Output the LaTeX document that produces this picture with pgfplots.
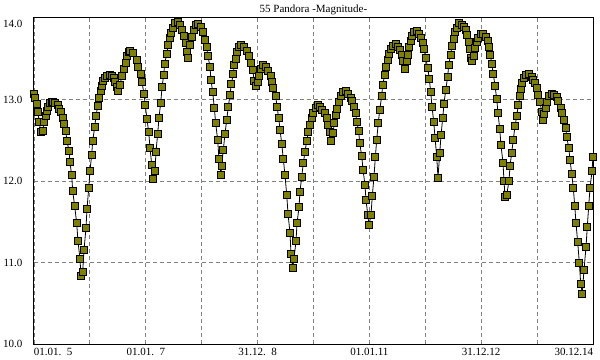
\documentclass[border=0pt]{standalone}
\usepackage{pgfplots}
\pgfplotsset{compat=1.18}
\usepackage{fontspec}
\setmainfont{Liberation Serif}
\definecolor{olivemk}{HTML}{808000}
\definecolor{gridgray}{HTML}{808080}
\begin{document}
\begin{tikzpicture}
\path[use as bounding box] (-34bp,-16bp) rectangle (566bp,344bp);
\begin{axis}[
  at={(0,0)}, anchor=south west,
  scale only axis, width=559bp, height=326bp,
  xmin=0, xmax=10, ymin=10, ymax=14,
  clip=false,
  axis line style={black, line width=1bp},
  major tick length=0pt,
  xtick={0,1,2,3,4,5,6,7,8,9,10},
  xticklabels={\rlap{01.01.\hphantom{0}5},,01.01.\hphantom{0}7,,31.12.\hphantom{0}8,,01.01.11,,31.12.12,,\llap{30.12.14}},
  ytick={10,11,12,13},
  yticklabels={10.0,11.0,12.0,13.0},
  extra y ticks={14},
  extra y tick labels={14.0},
  extra y tick style={grid=none, yticklabel style={yshift=-6bp}},
  grid=major,
  grid style={gridgray, line width=0.8bp, dash pattern=on 4bp off 3bp},
  tick label style={font=\fontsize{11bp}{13bp}\selectfont},
  /pgf/number format/assume math mode=true,
  yticklabel style={anchor=east, xshift=-8bp},
  xticklabel style={anchor=north, yshift=-1bp},
  title={55 Pandora -Magnitude-},
  title style={font=\fontsize{11bp}{13bp}\selectfont, at={(rel axis cs:0.5,1)}, anchor=base, yshift=0bp},
]
\addplot[black, line width=0.8bp, mark=square*, mark size=3.5bp,
  mark options={fill=olivemk, draw=black, line width=0.8bp, solid}]
  coordinates {
(0.000,13.07) (0.018,13.02) (0.048,12.95) (0.066,12.85) (0.095,12.73) (0.120,12.60)
(0.156,12.62) (0.179,12.72) (0.209,12.80) (0.227,12.86) (0.256,12.91) (0.286,12.96)
(0.317,12.97) (0.345,12.97) (0.376,12.96) (0.424,12.93) (0.453,12.89) (0.478,12.85)
(0.513,12.78) (0.537,12.70) (0.567,12.61) (0.590,12.49) (0.626,12.37) (0.644,12.23)
(0.674,12.07) (0.692,11.88) (0.728,11.69) (0.764,11.48) (0.787,11.26) (0.823,11.04)
(0.841,10.83) (0.871,10.89) (0.894,11.15) (0.930,11.42) (0.948,11.66) (0.979,11.91)
(1.002,12.13) (1.032,12.32) (1.050,12.49) (1.086,12.66) (1.109,12.80) (1.140,12.92)
(1.168,13.02) (1.193,13.11) (1.216,13.17) (1.240,13.23) (1.270,13.27) (1.311,13.29)
(1.360,13.30) (1.395,13.29) (1.431,13.26) (1.454,13.22) (1.490,13.16) (1.508,13.10)
(1.538,13.18) (1.574,13.29) (1.610,13.38) (1.640,13.45) (1.669,13.53) (1.705,13.59)
(1.717,13.60) (1.776,13.57) (1.837,13.49) (1.866,13.40) (1.909,13.31) (1.932,13.21)
(1.968,13.07) (1.991,12.93) (2.021,12.76) (2.052,12.60) (2.075,12.41) (2.106,12.20)
(2.129,12.02) (2.165,12.12) (2.182,12.36) (2.213,12.58) (2.236,12.78) (2.267,12.96)
(2.290,13.15) (2.320,13.30) (2.338,13.44) (2.374,13.56) (2.403,13.67) (2.428,13.76)
(2.451,13.82) (2.481,13.88) (2.522,13.94) (2.571,13.95) (2.612,13.92) (2.653,13.86)
(2.689,13.78) (2.714,13.69) (2.732,13.58) (2.760,13.51) (2.791,13.67) (2.821,13.77)
(2.862,13.85) (2.898,13.92) (2.939,13.93) (2.987,13.89) (3.023,13.83) (3.059,13.73)
(3.089,13.64) (3.113,13.53) (3.148,13.40) (3.166,13.24) (3.197,13.09) (3.225,12.90)
(3.250,12.71) (3.286,12.50) (3.309,12.27) (3.345,12.08) (3.358,12.19) (3.386,12.38)
(3.417,12.58) (3.447,12.75) (3.476,12.91) (3.506,13.06) (3.530,13.19) (3.565,13.32)
(3.583,13.42) (3.614,13.50) (3.637,13.58) (3.667,13.64) (3.708,13.67) (3.762,13.65)
(3.805,13.60) (3.851,13.53) (3.882,13.45) (3.912,13.36) (3.941,13.23) (3.971,13.17)
(4.002,13.22) (4.030,13.29) (4.061,13.38) (4.102,13.42) (4.150,13.40) (4.191,13.35)
(4.234,13.29) (4.263,13.22) (4.281,13.14) (4.324,13.04) (4.347,12.91) (4.377,12.78)
(4.401,12.63) (4.431,12.46) (4.460,12.27) (4.490,12.07) (4.521,11.83) (4.544,11.60)
(4.580,11.36) (4.597,11.11) (4.628,10.93) (4.651,11.05) (4.687,11.26) (4.705,11.48)
(4.741,11.68) (4.758,11.87) (4.789,12.05) (4.818,12.22) (4.848,12.36) (4.878,12.49)
(4.907,12.60) (4.937,12.69) (4.968,12.77) (4.996,12.84) (5.039,12.90) (5.086,12.93)
(5.116,12.91) (5.157,12.87) (5.206,12.83) (5.236,12.77) (5.266,12.69) (5.295,12.60)
(5.308,12.49) (5.354,12.59) (5.367,12.71) (5.397,12.81) (5.426,12.89) (5.456,12.97)
(5.492,13.04) (5.533,13.09) (5.576,13.10) (5.622,13.07) (5.665,13.02) (5.694,12.98)
(5.725,12.91) (5.755,12.83) (5.773,12.73) (5.809,12.61) (5.826,12.47) (5.862,12.31)
(5.886,12.14) (5.921,11.95) (5.939,11.77) (5.970,11.59) (5.993,11.46) (6.029,11.59)
(6.052,11.82) (6.082,12.05) (6.106,12.29) (6.131,12.51) (6.159,12.71) (6.184,12.87)
(6.220,13.04) (6.238,13.18) (6.274,13.30) (6.297,13.40) (6.327,13.49) (6.351,13.56)
(6.386,13.62) (6.428,13.66) (6.476,13.68) (6.517,13.65) (6.547,13.61) (6.578,13.55)
(6.606,13.47) (6.637,13.38) (6.667,13.47) (6.696,13.55) (6.714,13.64) (6.744,13.72)
(6.767,13.78) (6.792,13.83) (6.846,13.84) (6.893,13.81) (6.923,13.76) (6.953,13.70)
(6.977,13.62) (7.007,13.51) (7.043,13.39) (7.072,13.25) (7.097,13.09) (7.120,12.91)
(7.150,12.73) (7.174,12.53) (7.204,12.30) (7.227,12.04) (7.258,12.34) (7.281,12.56)
(7.311,12.77) (7.335,12.95) (7.365,13.12) (7.401,13.28) (7.419,13.43) (7.454,13.55)
(7.478,13.66) (7.508,13.74) (7.526,13.83) (7.562,13.88) (7.608,13.94) (7.651,13.92)
(7.692,13.89) (7.728,13.85) (7.751,13.79) (7.776,13.71) (7.800,13.62) (7.823,13.51)
(7.830,13.47) (7.871,13.53) (7.894,13.63) (7.919,13.71) (7.948,13.76) (7.991,13.80)
(8.038,13.81) (8.086,13.77) (8.116,13.72) (8.140,13.64) (8.163,13.55) (8.188,13.44)
(8.217,13.31) (8.247,13.17) (8.277,13.01) (8.301,12.83) (8.331,12.64) (8.354,12.44)
(8.390,12.22) (8.408,12.00) (8.426,11.81) (8.456,11.83) (8.497,12.00) (8.515,12.18)
(8.546,12.35) (8.574,12.51) (8.605,12.67) (8.635,12.80) (8.664,12.93) (8.694,13.04)
(8.712,13.13) (8.735,13.20) (8.766,13.26) (8.801,13.30) (8.860,13.31) (8.903,13.28)
(8.932,13.24) (8.962,13.20) (8.993,13.14) (9.021,13.06) (9.052,12.97) (9.082,12.85)
(9.100,12.75) (9.123,12.82) (9.154,12.90) (9.182,12.97) (9.218,13.04) (9.261,13.07)
(9.302,13.06) (9.351,13.03) (9.379,12.98) (9.422,12.90) (9.451,12.83) (9.481,12.75)
(9.512,12.65) (9.530,12.54) (9.565,12.41) (9.589,12.26) (9.619,12.09) (9.648,11.91)
(9.673,11.70) (9.696,11.48) (9.726,11.25) (9.755,11.00) (9.780,10.74) (9.808,10.62)
(9.839,10.91) (9.875,11.19) (9.898,11.44) (9.923,11.69) (9.946,11.91) (9.982,12.12)
(10.000,12.30)
  };
\end{axis}
\end{tikzpicture}
\end{document}
